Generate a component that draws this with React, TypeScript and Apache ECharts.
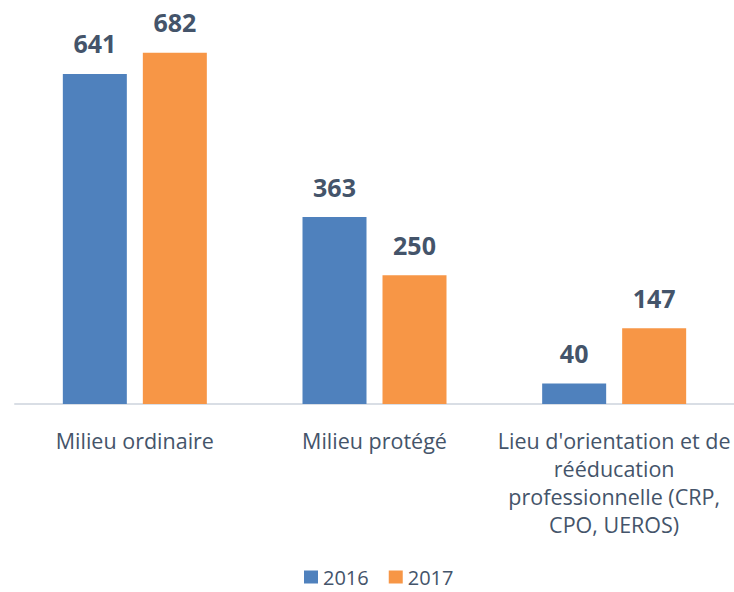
import React, { useEffect, useRef } from "react";
import * as echarts from "echarts";

const categories = [
  "Milieu ordinaire",
  "Milieu protégé",
  "Lieu d'orientation et de\nrééducation\nprofessionnelle (CRP,\nCPO, UEROS)",
];
const seriesNames = ["2016", "2017"];
const values2016 = [641, 363, 40];
const values2017 = [682, 250, 147];
const colors = ["#4F81BD", "#F79646"];
const textColor = "#44546A";
const font = "'Open Sans', 'Noto Sans', sans-serif";

export default function App() {
  const ref = useRef<HTMLDivElement>(null);
  useEffect(() => {
    if (!ref.current) return;
    const chart = echarts.init(ref.current, null, { renderer: "svg" });
    const label = {
      show: true,
      position: "top",
      distance: 18,
      color: textColor,
      fontSize: 25,
      fontWeight: "bold",
      fontFamily: font,
    };
    chart.setOption({
      animation: false,
      grid: { left: 15, right: 0, top: 43.6, bottom: 188, containLabel: false },
      legend: {
        top: 567,
        left: 304,
        padding: 0,
        itemWidth: 14,
        itemHeight: 13,
        itemGap: 20,
        icon: "rect",
        textStyle: {
          color: textColor,
          fontSize: 20,
          lineHeight: 20,
          fontFamily: font,
          padding: [0, 0, 0, 0],
        },
        data: seriesNames,
      },
      xAxis: {
        type: "category",
        data: categories,
        axisLine: { lineStyle: { color: "#D9DEE5", width: 2 } },
        axisTick: { show: false },
        axisLabel: {
          color: textColor,
          fontSize: 21.5,
          fontFamily: font,
          lineHeight: 28,
          margin: 22,
          interval: 0,
        },
      },
      yAxis: {
        type: "value",
        min: 0,
        max: 700,
        show: false,
        splitLine: { show: false },
      },
      series: [
        {
          name: seriesNames[0],
          type: "bar",
          data: values2016,
          barWidth: 64,
          barGap: "25%",
          itemStyle: { color: colors[0] },
          label,
        },
        {
          name: seriesNames[1],
          type: "bar",
          data: values2017,
          barWidth: 64,
          barGap: "25%",
          itemStyle: { color: colors[1] },
          label,
        },
      ],
    });
    return () => chart.dispose();
  }, []);
  return <div ref={ref} style={{ width: 734, height: 592, position: "absolute", left: 0, top: 0 }} />;
}
